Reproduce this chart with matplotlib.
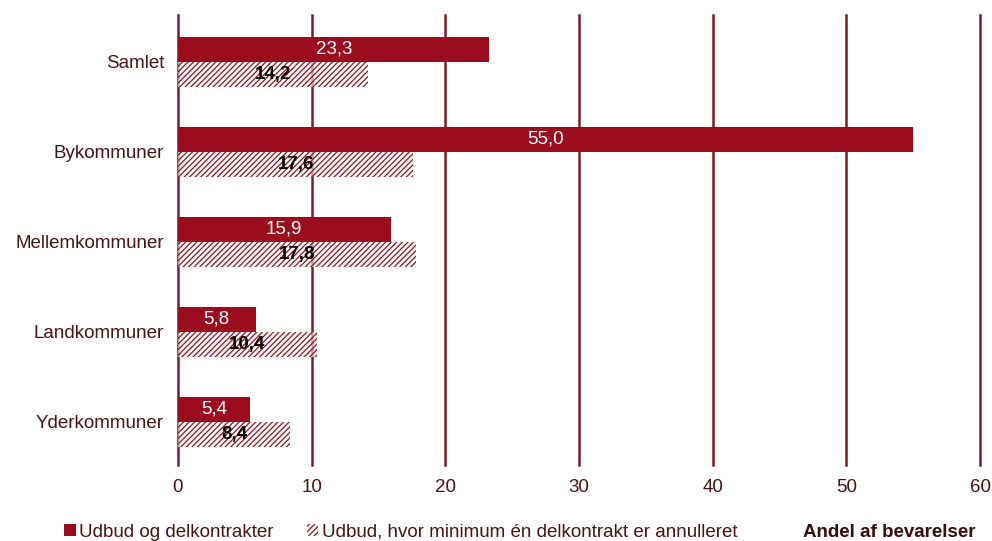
import numpy as np
import matplotlib.pyplot as plt
from matplotlib.patches import Patch

plt.rcParams['font.family'] = ['Liberation Sans', 'DejaVu Sans']
plt.rcParams['hatch.linewidth'] = 0.9

# Data
kategorier = ['Samlet', 'Bykommuner', 'Mellemkommuner', 'Landkommuner', 'Yderkommuner']
udbud = [23.3, 55.0, 15.9, 5.8, 5.4]
annulleret = [14.2, 17.6, 17.8, 10.4, 8.4]
serie_navne = ['Udbud og delkontrakter', 'Udbud, hvor minimum én delkontrakt er annulleret']

rod = '#9b0d1e'
gitter = '#7a1d27'
tekst = '#4a1216'
fs = 13.5

fig = plt.figure(figsize=(9.92, 5.41), dpi=100)
ax = fig.add_axes([0.1794, 0.1405, 0.8086, 0.8315])

y = np.arange(len(kategorier))[::-1].astype(float)
h = 0.278

ax.barh(y + h / 2, udbud, height=h, color=rod, zorder=3)
ax.barh(y - h / 2, annulleret, height=h, facecolor=(1, 1, 1, 0.6), hatch='//////',
        edgecolor=rod, linewidth=0, zorder=3)

def fmt(v):
    return f'{v:.1f}'.replace('.', ',')

for yi, v in zip(y, udbud):
    ax.text(v / 2, yi + h / 2, fmt(v), ha='center', va='center',
            color='white', fontsize=fs, zorder=4)
for yi, v in zip(y, annulleret):
    ax.text(v / 2, yi - h / 2, fmt(v), ha='center', va='center',
            color='black', fontsize=fs, fontweight='bold', zorder=4)

ax.set_xlim(0, 60)
ax.set_ylim(-0.48, 4.52)
ax.set_xticks(range(0, 61, 10))
ax.set_yticks(y)
ax.set_yticklabels(kategorier)
ax.tick_params(axis='both', length=0, labelsize=fs, labelcolor=tekst)
ax.tick_params(axis='x', pad=10)
ax.tick_params(axis='y', pad=10)
for s in ax.spines.values():
    s.set_visible(False)
for xv in range(0, 61, 10):
    ax.axvline(xv, color=gitter, lw=1.8, zorder=1, clip_on=False)

handles = [Patch(facecolor=rod, edgecolor='none'),
           Patch(facecolor='white', hatch='//////', edgecolor=rod, linewidth=0)]
fig.legend(handles, serie_navne, loc='upper left', bbox_to_anchor=(0.048, 0.063),
           ncol=2, frameon=False, fontsize=fs, handlelength=0.6, handleheight=0.6,
           handletextpad=0.2, columnspacing=1.75, labelcolor=tekst)
fig.text(0.983, 0.016, 'Andel af bevarelser', ha='right', va='center',
         fontsize=fs, fontweight='bold', color='#3a0c10')

fig.savefig('out.png', dpi=100)
